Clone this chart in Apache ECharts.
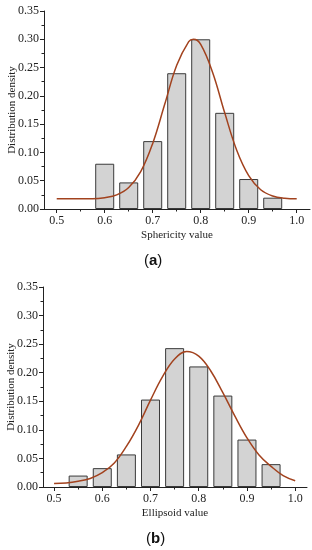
<!DOCTYPE html>
<html><head><meta charset="utf-8">
<script src="https://cdn.jsdelivr.net/npm/echarts@6/dist/echarts.min.js"></script>
<style>html,body{margin:0;padding:0;background:#fff}#c{width:312px;height:550px}</style>
</head><body><div id="c"></div>
<script>
// Panel (a): sphericity
const binCentersA = [0.60, 0.65, 0.70, 0.75, 0.80, 0.85, 0.90, 0.95];
const densityA = [0.080, 0.047, 0.120, 0.240, 0.300, 0.170, 0.053, 0.020];
const fitXA = [0.50, 0.525, 0.55, 0.575, 0.60, 0.625, 0.65, 0.675, 0.70, 0.725, 0.75, 0.775, 0.785, 0.80, 0.825, 0.85, 0.875, 0.90, 0.925, 0.95, 0.975, 1.00];
const fitYA = [0.018, 0.018, 0.018, 0.018, 0.020, 0.025, 0.038, 0.066, 0.116, 0.185, 0.254, 0.296, 0.300, 0.291, 0.241, 0.170, 0.104, 0.059, 0.034, 0.023, 0.019, 0.018];

// Panel (b): ellipsoid
const binCentersB = [0.55, 0.60, 0.65, 0.70, 0.75, 0.80, 0.85, 0.90, 0.95];
const densityB = [0.020, 0.033, 0.057, 0.153, 0.243, 0.211, 0.160, 0.083, 0.040];
const fitXB = [0.50, 0.525, 0.55, 0.575, 0.60, 0.625, 0.65, 0.675, 0.70, 0.725, 0.75, 0.775, 0.80, 0.825, 0.85, 0.875, 0.90, 0.925, 0.95, 0.975, 1.00];
const fitYB = [0.006, 0.007, 0.010, 0.015, 0.025, 0.042, 0.071, 0.108, 0.152, 0.193, 0.224, 0.237, 0.229, 0.203, 0.165, 0.124, 0.086, 0.056, 0.036, 0.020, 0.011];

// Axis ticks
const xTickValues = [0.5, 0.6, 0.7, 0.8, 0.9, 1.0];
const xMinorTickValues = [0.55, 0.65, 0.75, 0.85, 0.95];
const xTitleA = 'Sphericity value';
const xTitleB = 'Ellipsoid value';
const yTitle = 'Distribution density';

const FONT = '"Liberation Serif", "Times New Roman", serif';
const AX = '#222';
const BAR_FILL = '#d3d3d3';
const BAR_EDGE = '#3a3a3a';
const CURVE = '#a2421e';

function xAxes(gridIndex, min, max, title) {
  return [{
    type: 'value', gridIndex, min, max, position: 'bottom',
    name: title, nameLocation: 'middle', nameGap: 21, nameMoveOverlap: false,
    nameTextStyle: { fontFamily: FONT, fontSize: 11, color: AX },
    axisLine: { show: true, onZero: false, lineStyle: { color: AX, width: 1 } },
    axisTick: { show: true, inside: false, length: 4, customValues: xTickValues, lineStyle: { color: AX } },
    axisLabel: { show: true, customValues: xTickValues, margin: 6, fontFamily: FONT, fontSize: 12, color: AX,
                 formatter: v => v.toFixed(1) },
    splitLine: { show: false }
  }, {
    type: 'value', gridIndex, min, max, position: 'bottom', offset: 0,
    axisLine: { show: false },
    axisTick: { show: true, inside: false, length: 2.5, customValues: xMinorTickValues, lineStyle: { color: AX } },
    axisLabel: { show: false },
    splitLine: { show: false }
  }];
}
function yAxis(gridIndex) {
  return {
    type: 'value', gridIndex, min: 0, max: 0.35, interval: 0.05,
    name: yTitle, nameLocation: 'middle', nameGap: 26, nameMoveOverlap: false,
    nameTextStyle: { fontFamily: FONT, fontSize: 11, color: AX },
    axisLine: { show: true, lineStyle: { color: AX, width: 1 } },
    axisTick: { show: true, inside: false, length: 4, lineStyle: { color: AX } },
    minorTick: { show: true, splitNumber: 2, length: 2.5, lineStyle: { color: AX } },
    axisLabel: { margin: 5, fontFamily: FONT, fontSize: 12, color: AX, formatter: v => v.toFixed(2) },
    splitLine: { show: false }, minorSplitLine: { show: false }
  };
}
function barSeries(xi, yi, xs, ys) {
  return {
    type: 'bar', xAxisIndex: xi, yAxisIndex: yi, barWidth: 19,
    data: xs.map((x, i) => [x, ys[i]]),
    itemStyle: { color: BAR_FILL, borderColor: BAR_EDGE, borderWidth: 1 },
    silent: true, animation: false, z: 2
  };
}
function lineSeries(xi, yi, xs, ys) {
  return {
    type: 'line', xAxisIndex: xi, yAxisIndex: yi, smooth: 0.4, symbol: 'none',
    data: xs.map((x, i) => [x, ys[i]]),
    lineStyle: { color: CURVE, width: 1.5 },
    silent: true, animation: false, z: 3
  };
}

const chart = echarts.init(document.getElementById('c'), null, { renderer: 'canvas' });
chart.setOption({
  backgroundColor: '#fff',
  animation: false,
  grid: [
    { left: 44, top: 11, width: 266, height: 198, containLabel: false, outerBoundsMode: 'none' },
    { left: 43, top: 287, width: 264, height: 200, containLabel: false, outerBoundsMode: 'none' }
  ],
  xAxis: [].concat(xAxes(0, 0.4735, 1.0277, xTitleA), xAxes(1, 0.4771, 1.0245, xTitleB)),
  yAxis: [yAxis(0), yAxis(1)],
  series: [
    barSeries(0, 0, binCentersA, densityA),
    lineSeries(0, 0, fitXA, fitYA),
    barSeries(2, 1, binCentersB, densityB),
    lineSeries(2, 1, fitXB, fitYB)
  ],
  graphic: [
    { type: 'text', left: 144, top: 253, style: { text: '{p|(}{b|a}{p|)}', rich: {
        p: { fontFamily: '"Liberation Sans", Arial, sans-serif', fontSize: 15, fill: '#111' },
        b: { fontFamily: '"Liberation Sans", Arial, sans-serif', fontSize: 15, fontWeight: 'bold', fill: '#111' } } } },
    { type: 'text', left: 146, top: 531, style: { text: '{p|(}{b|b}{p|)}', rich: {
        p: { fontFamily: '"Liberation Sans", Arial, sans-serif', fontSize: 15, fill: '#111' },
        b: { fontFamily: '"Liberation Sans", Arial, sans-serif', fontSize: 15, fontWeight: 'bold', fill: '#111' } } } }
  ]
});
</script>
</body></html>
